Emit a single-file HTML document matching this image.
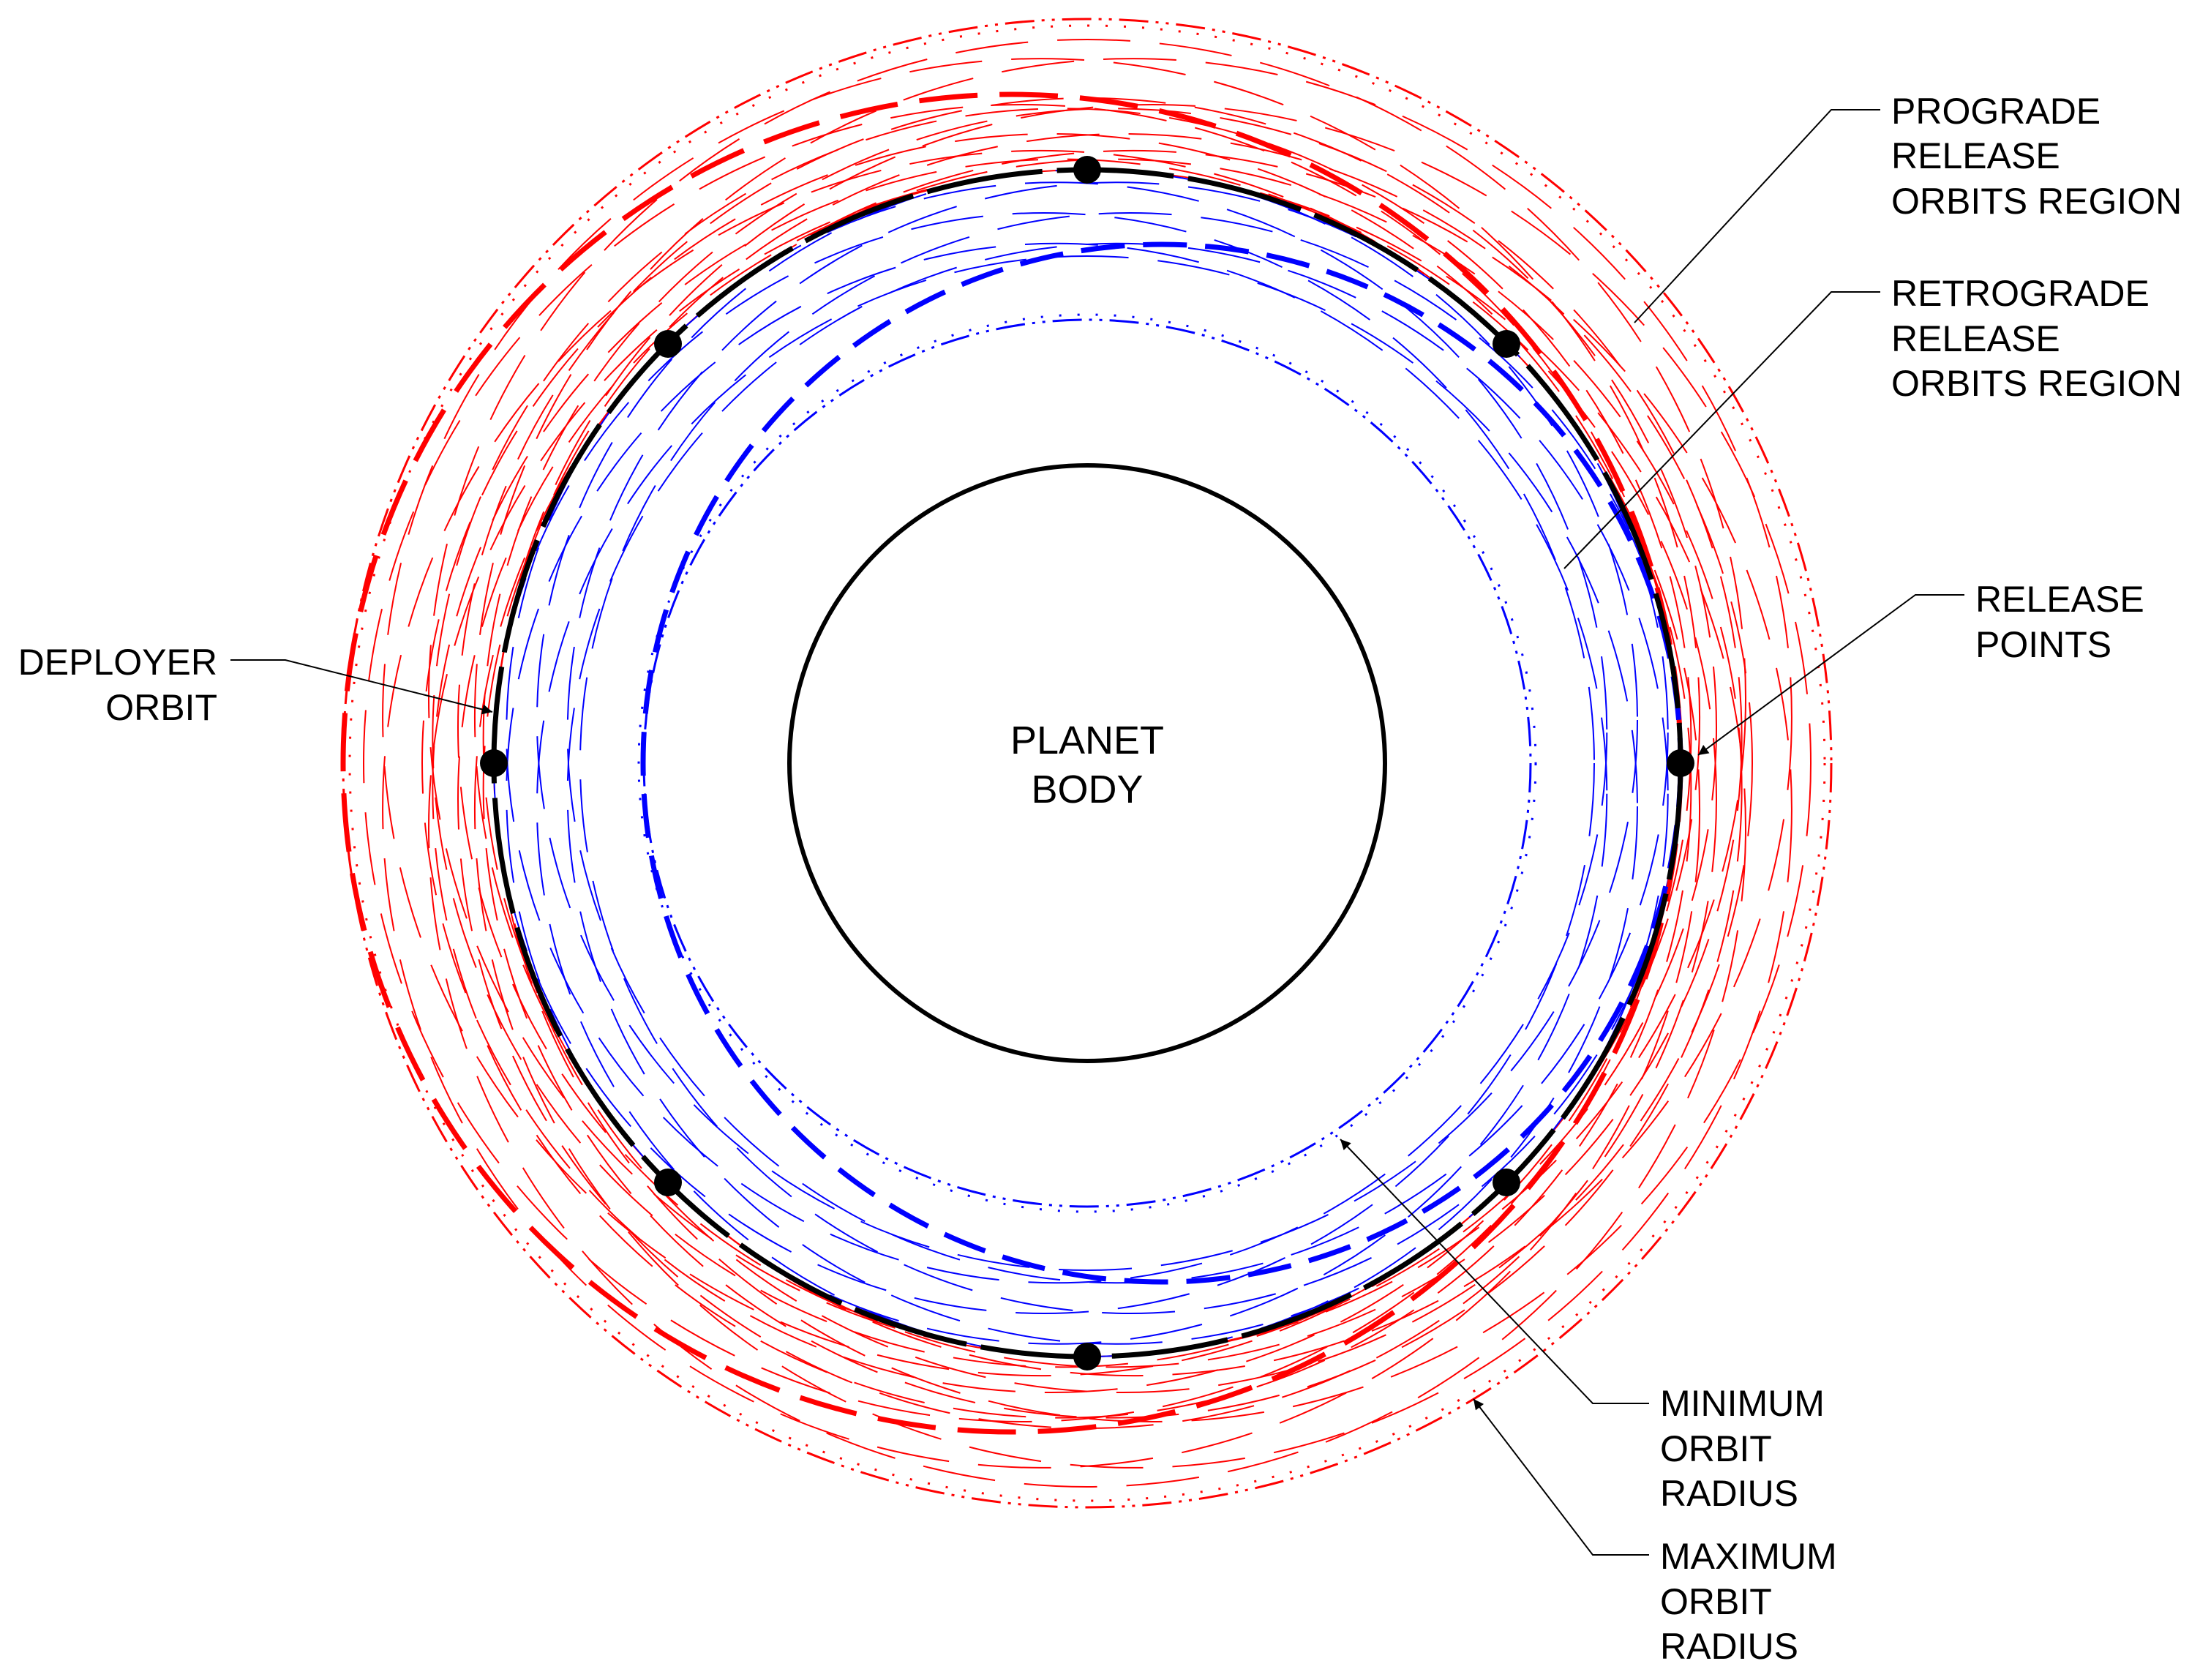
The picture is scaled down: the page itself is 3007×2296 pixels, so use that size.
<!DOCTYPE html>
<html><head><meta charset="utf-8"><style>
html,body{margin:0;padding:0;background:#fff;}
svg{display:block;}
text{font-family:"Liberation Sans",sans-serif;font-size:50px;fill:#000;}
</style></head><body>
<svg id="s" width="3007" height="2296" viewBox="0 0 3007 2296" xmlns="http://www.w3.org/2000/svg">
<defs><marker id="ah" viewBox="0 0 10 10" refX="10" refY="5" markerWidth="30" markerHeight="14" markerUnits="userSpaceOnUse" orient="auto"><path d="M0,0 L10,5 L0,10 z" fill="#000"/></marker></defs>
<g id="orb"></g>
<circle cx="1486" cy="1043" r="407" fill="none" stroke="#000" stroke-width="6"/>
<text x="1486" y="1030" text-anchor="middle" style="font-size:54px">PLANET</text>
<text x="1486" y="1097" text-anchor="middle" style="font-size:54px">BODY</text>
<g fill="#000">
<circle cx="1486" cy="232" r="19"/><circle cx="1486" cy="1854" r="19"/>
<circle cx="675" cy="1043" r="19"/><circle cx="2297" cy="1043" r="19"/>
<circle cx="913" cy="470" r="19"/><circle cx="2059" cy="470" r="19"/>
<circle cx="913" cy="1616" r="19"/><circle cx="2059" cy="1616" r="19"/>
</g>
<g stroke="#000" stroke-width="2" fill="none">
<polyline points="2570,150 2503,150 2234,441"/>
<polyline points="2570,399 2503,399 2138,777"/>
<polyline points="2685,813 2618,813 2321,1032" marker-end="url(#ah)"/>
<polyline points="315,902 390,902 673,973" marker-end="url(#ah)"/>
<polyline points="2254,1918 2177,1918 1832,1557" marker-end="url(#ah)"/>
<polyline points="2254,2125 2177,2125 2014,1912" marker-end="url(#ah)"/>
</g>
<text x="2585" y="169">PROGRADE</text>
<text x="2585" y="230">RELEASE</text>
<text x="2585" y="292">ORBITS REGION</text>
<text x="2585" y="418">RETROGRADE</text>
<text x="2585" y="480">RELEASE</text>
<text x="2585" y="541">ORBITS REGION</text>
<text x="2700" y="836">RELEASE</text>
<text x="2700" y="898">POINTS</text>
<text x="297" y="922" text-anchor="end">DEPLOYER</text>
<text x="297" y="984" text-anchor="end">ORBIT</text>
<text x="2269" y="1935">MINIMUM</text>
<text x="2269" y="1997">ORBIT</text>
<text x="2269" y="2058">RADIUS</text>
<text x="2269" y="2144">MAXIMUM</text>
<text x="2269" y="2206">ORBIT</text>
<text x="2269" y="2267">RADIUS</text>
</svg>
<script>
var g=document.getElementById('orb'),cx=1486,cy=1043,R=811,ns='http://www.w3.org/2000/svg';
function C(x,y,r,col,w,da){var c=document.createElementNS(ns,'circle');c.setAttribute('cx',x);c.setAttribute('cy',y);c.setAttribute('r',r);c.setAttribute('fill','none');c.setAttribute('stroke',col);c.setAttribute('stroke-width',w);if(da)c.setAttribute('stroke-dasharray',da);g.appendChild(c);}
for(var k=0;k<8;k++){var a=k*Math.PI/4,ux=Math.cos(a),uy=Math.sin(a);
C(cx+ux*(R-860),cy+uy*(R-860),860,'#f00',2,'100 40');
C(cx+ux*(R-900),cy+uy*(R-900),900,'#f00',2,'100 40');
C(cx+ux*(R-752),cy+uy*(R-752),752,'#00f',2,'100 40');}
C(cx,cy,1017,'#f00',3,'40 10 4 10 4 10');
C(cx,cy,1008,'#f00',3,'3 22');
C(cx,cy,606,'#00f',3,'40 10 4 10 4 10');
C(cx,cy,613,'#00f',3,'3 22');
C(cx-103,cy,914,'#f00',7,'80 30');
C(cx+102,cy,709,'#00f',7,'60 25');
C(cx,cy,R,'#000',7,'160 20');
</script>
</body></html>
